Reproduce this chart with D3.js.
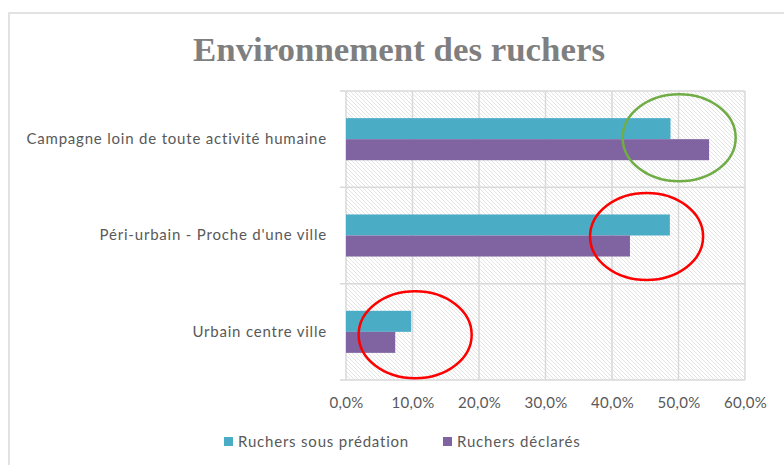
<!DOCTYPE html>
<html>
<head>
<meta charset="utf-8">
<script src="https://cdn.jsdelivr.net/npm/d3@7"></script>
<style>
  body { margin: 0; background: #fff; }
  svg { display: block; }
</style>
</head>
<body>
<div id="chart"></div>
<script>
// data
var categories = ["Campagne loin de toute activité humaine", "Péri-urbain - Proche d'une ville", "Urbain centre ville"];
var seriesNames = ["Ruchers sous prédation", "Ruchers déclarés"];
var predation = [0.488, 0.487, 0.098];
var declares = [0.546, 0.427, 0.074];
var xTicks = [0, 0.1, 0.2, 0.3, 0.4, 0.5, 0.6];
// highlight circles drawn on top of the chart
var circleCats = ["Campagne loin de toute activité humaine", "Péri-urbain - Proche d'une ville", "Urbain centre ville"];
var circleAt = [0.501, 0.452, 0.104];
var circleColors = ["#70ad47", "#ff0000", "#ff0000"];

var colors = ["#4bacc6", "#8064a2"];

var W = 784, H = 465;
var margin = {top: 91, right: 39, bottom: 85, left: 346};
var width = W - margin.left - margin.right,
    height = H - margin.top - margin.bottom;

var fr = d3.formatLocale({decimal: ",", thousands: " ", grouping: [3], currency: ["", " €"]});
var pct = fr.format(".1%");

var svg = d3.select("#chart").append("svg")
    .attr("width", W)
    .attr("height", H);

// hatch pattern for the plot area
var defs = svg.append("defs");
var pat = defs.append("pattern")
    .attr("id", "hatch")
    .attr("patternUnits", "userSpaceOnUse")
    .attr("width", 4)
    .attr("height", 4);
pat.append("path")
    .attr("d", "M-1,-1 L5,5 M-1,3 L1,5 M3,-1 L5,1")
    .attr("stroke", "#e0e0e0")
    .attr("stroke-width", 0.9);

// chart border
svg.append("rect")
    .attr("x", 9).attr("y", 13)
    .attr("width", W).attr("height", H)
    .attr("fill", "none")
    .attr("stroke", "#d9d9d9")
    .attr("stroke-width", 1.5);

// title
svg.append("text")
    .attr("x", 399)
    .attr("y", 61)
    .attr("text-anchor", "middle")
    .attr("textLength", 412)
    .attr("lengthAdjust", "spacingAndGlyphs")
    .style("font-family", "'Liberation Serif', serif")
    .style("font-weight", "bold")
    .style("font-size", "34px")
    .style("fill", "#7f7f7f")
    .text("Environnement des ruchers");

var g = svg.append("g")
    .attr("transform", "translate(" + margin.left + "," + margin.top + ")");

var x = d3.scaleLinear().domain([0, 0.6]).range([0, width]);
var y = d3.scaleBand().domain(categories).range([0, height]).padding(0);
var ySub = d3.scaleBand().domain(seriesNames).range([0, y.bandwidth()]).paddingInner(0).paddingOuter(1.29);

g.append("rect")
    .attr("width", width).attr("height", height)
    .attr("fill", "url(#hatch)");

// vertical gridlines
g.selectAll(".vgrid")
    .data(xTicks)
    .enter().append("line")
    .attr("x1", function(d) { return x(d); })
    .attr("x2", function(d) { return x(d); })
    .attr("y1", 0).attr("y2", height)
    .attr("stroke", "#d9d9d9")
    .attr("stroke-width", 1.5);

// horizontal category separators (with small tick to the left)
var seps = [0].concat(categories.map(function(c) { return y(c) + y.bandwidth(); }));
g.selectAll(".hgrid")
    .data(seps)
    .enter().append("line")
    .attr("x1", -6).attr("x2", width)
    .attr("y1", function(d) { return d; })
    .attr("y2", function(d) { return d; })
    .attr("stroke", "#d9d9d9")
    .attr("stroke-width", 1.5);

// bars
var rows = categories.map(function(c, i) {
    return {cat: c, vals: [predation[i], declares[i]]};
});
var grp = g.selectAll(".cat")
    .data(rows)
    .enter().append("g")
    .attr("transform", function(d) { return "translate(0," + y(d.cat) + ")"; });
grp.selectAll("rect")
    .data(function(d) { return d.vals.map(function(v, j) { return {s: seriesNames[j], v: v, j: j}; }); })
    .enter().append("rect")
    .attr("x", x(0))
    .attr("y", function(d) { return ySub(d.s); })
    .attr("width", function(d) { return x(d.v) - x(0); })
    .attr("height", ySub.bandwidth())
    .attr("fill", function(d) { return colors[d.j]; });

// x axis labels
var xAxis = g.append("g")
    .attr("transform", "translate(0," + height + ")")
    .call(d3.axisBottom(x).tickValues(xTicks).tickFormat(pct).tickSize(0).tickPadding(17));
xAxis.select(".domain").remove();
xAxis.selectAll("text")
    .style("font-family", "Lato, sans-serif")
    .style("font-size", "15px")
    .style("letter-spacing", "0.3px")
    .style("fill", "#595959");

// y axis labels
var yAxis = g.append("g")
    .call(d3.axisLeft(y).tickSize(0).tickPadding(19));
yAxis.select(".domain").remove();
yAxis.selectAll("text")
    .style("font-family", "Lato, sans-serif")
    .style("font-size", "15px")
    .style("letter-spacing", "0.8px")
    .style("fill", "#595959");

// highlight ellipses (hand drawn in the original, so slightly off-centre)
var circleShift = [-1.5, 1, 3];
g.selectAll(".hl")
    .data(circleCats)
    .enter().append("ellipse")
    .attr("cx", function(d, i) { return x(circleAt[i]); })
    .attr("cy", function(d, i) { return y(d) + y.bandwidth() / 2 + circleShift[i]; })
    .attr("rx", x(0.085) - x(0))
    .attr("ry", 43.5)
    .attr("fill", "none")
    .attr("stroke", function(d, i) { return circleColors[i]; })
    .attr("stroke-width", 2.5);

// legend
var legX = [224, 443];
var leg = svg.selectAll(".leg")
    .data(seriesNames)
    .enter().append("g")
    .attr("transform", function(d, i) { return "translate(" + legX[i] + ",437)"; });
leg.append("rect")
    .attr("width", 9).attr("height", 9)
    .attr("fill", function(d, i) { return colors[i]; });
leg.append("text")
    .attr("x", 14).attr("y", 10)
    .style("font-family", "Lato, sans-serif")
    .style("font-size", "15px")
    .style("letter-spacing", "0.8px")
    .style("fill", "#595959")
    .text(function(d) { return d; });
</script>
</body>
</html>
